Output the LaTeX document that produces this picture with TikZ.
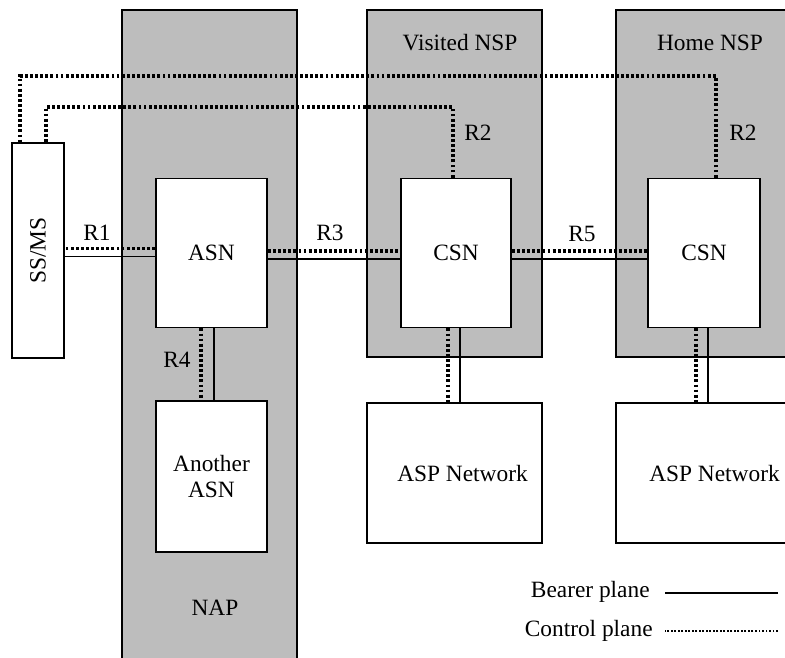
\documentclass[tikz,border=0pt]{standalone}
\usepackage{fontspec}
\setmainfont{Liberation Serif}
\usetikzlibrary{calc}
\definecolor{bandgray}{HTML}{BDBDBD}

\tikzset{
  band/.style={draw, fill=bandgray, line width=1.1pt},
  unit/.style={draw, fill=white, line width=1.1pt, inner sep=0pt, align=center},
  bearer/.style={line width=0.9pt},
  control/.style={line width=2pt, dash pattern=on 1.6pt off 1.3pt},
  legendctrl/.style={line width=1.4pt, dash pattern=on 1.1pt off 0.9pt},
}

\begin{document}
\begin{tikzpicture}[x=0.02cm,y=-0.02cm,font=\fontsize{13.3}{15}\selectfont]
\useasboundingbox (0,0) rectangle (785,657);
\clip (0,0) rectangle (785,657);
% shaded domains
\draw[band] (122,10) rectangle (297,700);
\draw[band] (367,10) rectangle (542,357);
\draw[band] (616,10) rectangle (820,357);
\node (nap) at (215,608) {NAP};
\node (vnsp) at (460,43) {Visited NSP};
\node (hnsp) at (710,43) {Home NSP};
% functional entities
\node[unit, minimum width=1.04cm, minimum height=4.3cm] (ssms) at (38,250.5) {\rotatebox{90}{SS/MS}};
\node[unit, minimum width=2.22cm, minimum height=2.98cm] (asn) at (211.5,253) {ASN};
\node[unit, minimum width=2.22cm, minimum height=3.02cm] (another) at (211.5,476.5) {Another\\ASN};
\node[unit, minimum width=2.2cm, minimum height=2.98cm] (csnv) at (456,253) {CSN};
\node[unit, minimum width=2.24cm, minimum height=2.98cm] (csnh) at (704,253) {CSN};
\node[unit, line width=0.8pt, minimum width=3.5cm, minimum height=2.8cm] (aspv) at (454.5,473) {\hspace*{0.32cm}ASP Network};
\node[unit, line width=0.8pt, minimum width=3.94cm, minimum height=2.8cm] (asph) at (714.5,473) {ASP Network};
% reference points
\draw[control] (asn.west) ++(0,-4.5) coordinate (r1c) -- (ssms.east |- r1c);
\draw[bearer] (asn.west) ++(0,3.5) coordinate (r1b) -- (ssms.east |- r1b);
\draw[control] (asn.east) ++(0,-2) coordinate (r3c) -- (csnv.west |- r3c);
\draw[bearer] (asn.east) ++(0,6) coordinate (r3b) -- (csnv.west |- r3b);
\draw[control] (csnv.east) ++(0,-2) coordinate (r5c) -- (csnh.west |- r5c);
\draw[bearer] (csnv.east) ++(0,6) coordinate (r5b) -- (csnh.west |- r5b);
\draw[control] (asn.south) ++(-10.5,0) coordinate (r4c) -- (another.north -| r4c);
\draw[bearer] (asn.south) ++(2.5,0) coordinate (r4b) -- (another.north -| r4b);
\draw[control] (csnv.south) ++(-8,0) coordinate (avc) -- (aspv.north -| avc);
\draw[bearer] (csnv.south) ++(4,0) coordinate (avb) -- (aspv.north -| avb);
\draw[control] (csnh.south) ++(-8,0) coordinate (ahc) -- (asph.north -| ahc);
\draw[bearer] (csnh.south) ++(4,0) coordinate (ahb) -- (asph.north -| ahb);
\draw[control] (csnv.north) ++(-3,0) |- ($(ssms.north)+(8,-35)$) -- ($(ssms.north)+(8,0)$);
\draw[control] (csnh.north) ++(12,0) |- ($(ssms.north)+(-18,-66)$) -- ($(ssms.north)+(-18,0)$);
\node (lblR1) at (97,233) {R1};
\node (lblR3) at (330,233) {R3};
\node (lblR5) at (582,234) {R5};
\node (lblR4) at (177,360) {R4};
\node (lblR2v) at (478,133) {R2};
\node (lblR2h) at (743,133) {R2};
% legend
\node[anchor=east, inner sep=0pt] (bearer) at (650,592) {Bearer plane};
\node[anchor=east, inner sep=0pt] (ctrl) at (653,631) {Control plane};
\coordinate (bearerend) at (778,593);
\coordinate (ctrlend) at (778,631);
\draw[bearer] (bearerend) -- ($(bearer.east)+(15,1)$);
\draw[legendctrl] (ctrlend) -- ($(ctrl.east)+(12,0)$);
\end{tikzpicture}
\end{document}
